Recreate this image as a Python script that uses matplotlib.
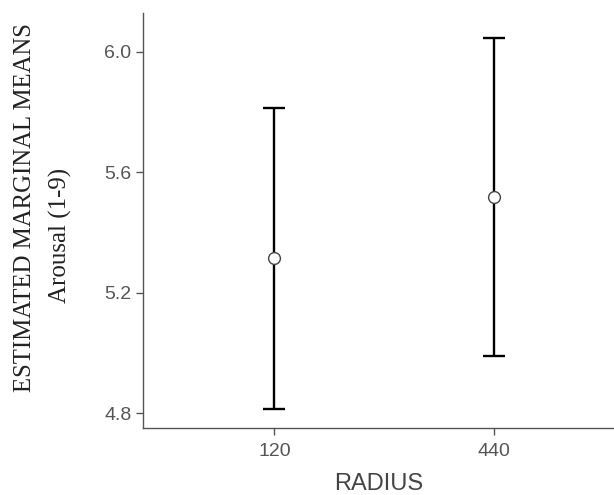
import matplotlib
matplotlib.use("Agg")
from matplotlib import pyplot as plt

radius = ["120", "440"]
means = [5.315, 5.518]
lower = [4.813, 4.989]
upper = [5.814, 6.047]

fig = plt.figure(figsize=(6.14, 4.95), dpi=100)
ax = fig.add_axes([0.233, 0.135, 0.767, 0.839])

pos = [1, 2]
yerr = [[m - l for m, l in zip(means, lower)], [u - m for m, u in zip(means, upper)]]
ax.errorbar(pos, means, yerr=yerr, fmt="none", ecolor="black", elinewidth=1.7,
            capsize=8, capthick=1.7, zorder=2)
ax.plot(pos, means, "o", ms=8.5, mfc="white", mec="#444444", mew=1.0, zorder=3)

ax.set_xlim(0.4, 2.55)
ax.set_ylim(4.75, 6.13)
ax.set_yticks([4.8, 5.2, 5.6, 6.0])
ax.set_yticklabels(["4.8", "5.2", "5.6", "6.0"])
ax.set_xticks(pos)
ax.set_xticklabels(radius)

for s in ["top", "right"]:
    ax.spines[s].set_visible(False)
for s in ["left", "bottom"]:
    ax.spines[s].set_color("#555555")
    ax.spines[s].set_linewidth(1.0)
ax.tick_params(colors="#555555", labelcolor="#555555", length=5, width=1.0,
               labelsize=14)
ax.tick_params(axis="x", pad=6)
for lab in ax.get_xticklabels() + ax.get_yticklabels():
    lab.set_family("Liberation Sans")

ax.set_xlabel("RADIUS", family="Liberation Sans", fontsize=17, color="#444444",
              labelpad=9)

fig.text(0.041, 0.58, "ESTIMATED MARGINAL MEANS", rotation=90, ha="center",
         va="center", family="Liberation Serif", fontsize=17.8, color="#222222")
fig.text(0.098, 0.525, "Arousal (1-9)", rotation=90, ha="center", va="center",
         family="Liberation Serif", fontsize=18, color="#222222")

fig.savefig("out.png", dpi=100)
